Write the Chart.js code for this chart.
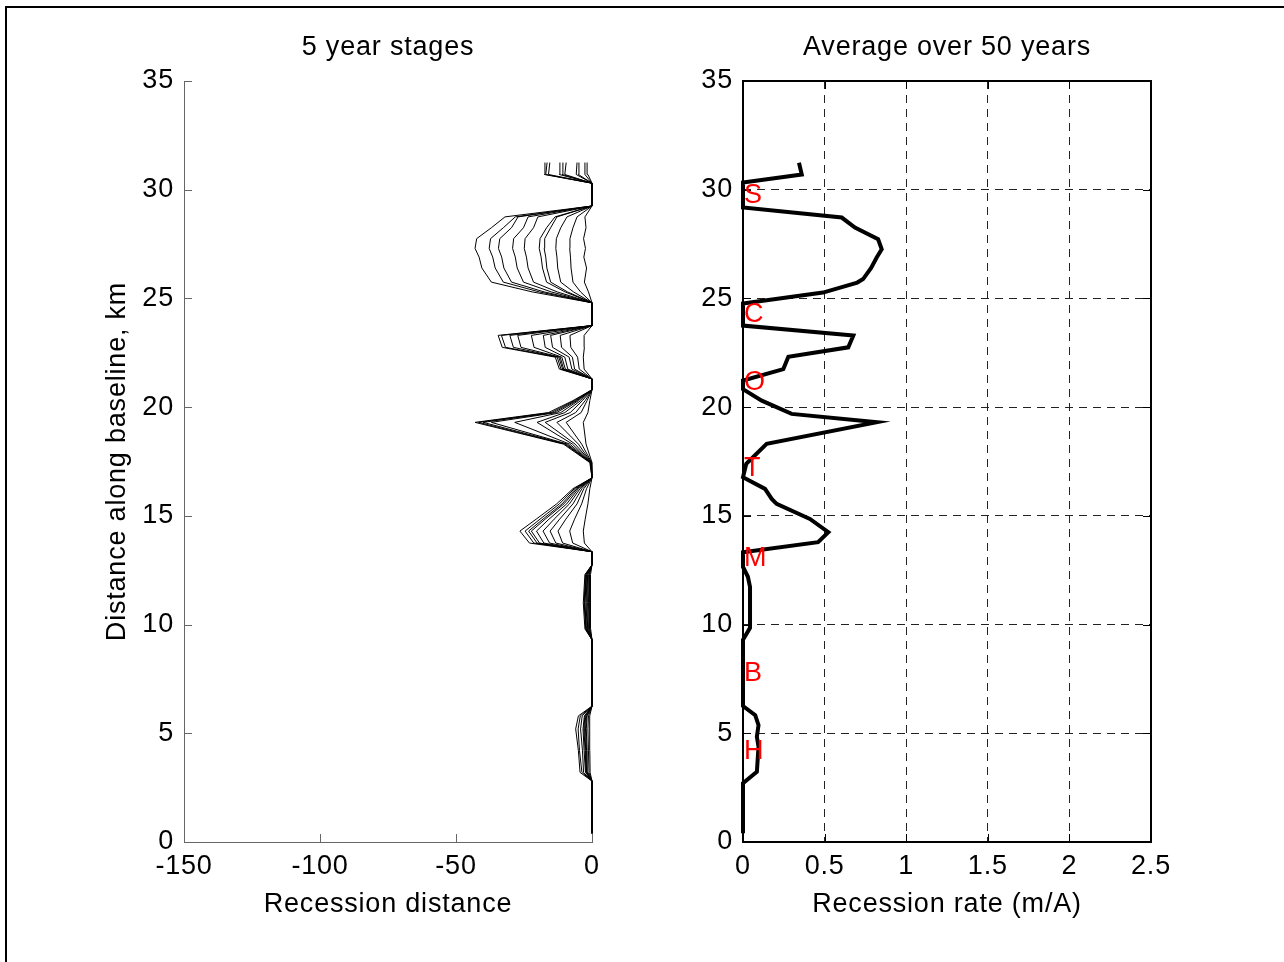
<!DOCTYPE html>
<html>
<head>
<meta charset="utf-8">
<script src="https://cdn.jsdelivr.net/npm/chart.js@4.4.1/dist/chart.umd.min.js"></script>
<style>
  body { margin: 0; background: #fff; }
  #frame { position: absolute; left: 5px; top: 6px; width: 1300px; height: 980px; border-top: 2px solid #000; border-left: 2px solid #000; }
  canvas { position: absolute; top: 0; }
  #left { left: 0; }
  #right { left: 642px; }
</style>
</head>
<body>
<div id="frame"></div>
<canvas id="left" width="642" height="962"></canvas>
<canvas id="right" width="642" height="962"></canvas>
<script>
// distance along baseline (km) for the 5 year stage profiles
var kmGrid = [0.4, 2.8, 3.2, 4.2, 5.2, 5.8, 6.25, 9.3, 9.8, 11.0, 12.3,
              12.75, 13.35, 13.75, 14.3, 14.85, 15.55, 16.25, 16.75, 17.45, 18.3, 19.3,
              19.75, 20.3, 20.8, 21.3, 21.75, 22.3, 22.75, 23.3, 23.75, 24.8, 25.3,
              25.75, 26.4, 26.9, 27.3, 27.75, 28.25, 28.75, 29.25, 30.3, 30.7, 31.25];

// cumulative recession after each 5 year stage
var stage1 = [0, 0, -0.7, -0.8, -0.9, -0.8, 0, 0, -0.5, -0.6, -0.5,
              0, 0, -2.8, -3.2, -2.5, -1.5, -0.8, 0, 0, -2.2, -3.2,
              -1.5, -0.8, 0, 0, -2.9, -3.2, -2.8, -2.9, 0, 0, -1.3,
              -2.8, -2.0, -3.0, -2.4, -3.1, -2.2, -2.6, 0, 0, -1.5, -1.8];
var stage2 = [0, 0, -1.1, -1.3, -1.5, -1.3, 0, 0, -0.8, -1.0, -0.8,
              0, 0, -7.1, -8.2, -6.4, -3.8, -2.0, 0, -0.1, -3.8, -9.5,
              -4.0, -1.8, 0, 0, -4.7, -5.3, -7.8, -8.1, 0, 0, -4.2,
              -7.0, -7.7, -7.9, -8.2, -8.1, -7.0, -5.5, 0, 0, -2.6, -2.6];
var stage3 = [0, 0, -1.5, -1.8, -2.1, -1.8, 0, 0, -1.0, -1.3, -1.0,
              0, 0, -10.8, -12.5, -9.6, -5.5, -3.0, 0, -0.2, -5.0, -12.9,
              -6.0, -2.5, 0, 0, -6.4, -7.2, -11.2, -11.7, 0, 0, -6.8,
              -11.5, -12.6, -12.9, -13.3, -13.1, -11.5, -9.2, 0, 0, -5.0, -4.8];
var stage4 = [0, 0, -1.8, -2.0, -2.4, -2.0, 0, 0, -1.3, -1.6, -1.3,
              0, 0, -13.3, -15.4, -11.9, -7.0, -3.7, 0, -0.2, -6.2, -17.2,
              -8.0, -3.5, 0, 0, -7.4, -8.4, -14.5, -15.2, 0, 0, -9.0,
              -15.2, -16.6, -17.0, -17.6, -17.4, -15.2, -12.9, 0, 0, -5.8, -5.5];
var stage5 = [0, 0, -2.0, -2.3, -2.7, -2.3, 0, 0, -1.6, -1.9, -1.6,
              0, 0, -15.6, -18.0, -13.9, -8.3, -4.4, 0, -0.3, -7.2, -20.2,
              -10.0, -4.2, 0, 0, -8.9, -10.0, -17.2, -17.9, 0, 0, -9.9,
              -16.7, -18.2, -18.7, -19.4, -19.1, -16.7, -13.6, 0, 0, -10.0, -9.5];
var stage6 = [0, 0, -2.2, -2.5, -3.0, -2.6, 0, 0, -1.8, -2.2, -1.8,
              0, 0, -17.7, -20.4, -15.8, -9.3, -5.0, 0, -0.3, -8.2, -28.4,
              -11.5, -5.0, 0, 0, -9.8, -11.1, -21.3, -22.3, 0, 0, -12.8,
              -21.5, -23.5, -24.1, -24.9, -24.6, -21.5, -19.9, 0, 0, -11.0, -10.7];
var stage7 = [0, 0, -2.4, -2.9, -3.3, -2.8, 0, 0, -2.1, -2.6, -2.0,
              0, 0, -19.3, -22.3, -17.2, -10.3, -5.5, 0, -0.4, -9.0, -37.0,
              -13.0, -5.5, 0, 0, -10.4, -11.7, -26.1, -27.3, 0, 0, -15.0,
              -25.2, -27.5, -28.2, -29.2, -28.8, -25.2, -23.5, 0, 0, -12.0, -11.8];
var stage8 = [0, 0, -3.1, -3.5, -4.2, -3.6, 0, 0, -2.2, -2.7, -2.2,
              0, 0, -20.2, -23.3, -18.0, -11.0, -6.0, 0, -0.5, -9.5, -40.0,
              -14.0, -6.0, 0, 0, -10.8, -12.2, -28.9, -30.2, 0, 0, -17.6,
              -29.6, -32.4, -33.2, -34.4, -33.9, -29.6, -27.2, 0, 0, -16.0, -15.5];
var stage9 = [0, 0, -3.7, -4.6, -5.1, -4.3, 0, 0, -2.3, -2.9, -2.4,
              0, 0, -21.4, -24.6, -19.1, -12.0, -6.5, 0, -0.6, -10.0, -41.7,
              -15.0, -6.5, 0, 0, -11.4, -12.8, -31.8, -33.3, 0, 0, -19.4,
              -32.6, -35.6, -36.5, -37.8, -37.3, -32.6, -28.2, 0, 0, -17.0, -16.5];
var stage10 = [0, 0, -4.4, -5.0, -6.0, -5.0, 0, 0, -2.6, -3.2, -2.6,
               0, 0, -23.0, -26.5, -20.5, -13.0, -7.0, 0, -0.8, -10.5, -43.0,
               -16.0, -7.0, 0, 0, -12.0, -13.5, -33.0, -34.5, 0, 0, -22.0,
               -37.0, -40.5, -41.5, -43.0, -42.4, -37.0, -32.0, 0, 0, -17.5, -17.3];

// average recession rate over 50 years
var avgKm = [0.4, 2.7, 3.23, 4.38, 4.84, 5.37, 5.83, 6.25, 9.3, 9.85, 11.73, 12.2, 12.65,
             13.33, 13.79, 14.25, 14.86, 15.55, 15.78, 16.24, 16.78, 17.39, 18.31, 19.31,
             19.69, 20.3, 20.83, 21.22, 21.75, 22.32, 22.75, 23.29, 23.75, 24.77, 25.27,
             25.73, 25.89, 26.4, 26.89, 27.26, 27.72, 28.26, 28.72, 29.18, 30.33, 30.7, 31.24];
var avgRate = [0, 0, 0.085, 0.095, 0.085, 0.095, 0.075, 0, 0, 0.043, 0.043, 0.03, 0,
               0, 0.46, 0.523, 0.41, 0.206, 0.176, 0.135, 0, 0.02, 0.145, 0.82,
               0.298, 0.115, 0, 0, 0.247, 0.278, 0.645, 0.676, 0, 0, 0.49,
               0.70, 0.736, 0.785, 0.82, 0.85, 0.828, 0.686, 0.605, 0, 0, 0.36, 0.343];

var siteLetters = ['S', 'C', 'O', 'T', 'M', 'B', 'H'];
var siteKm = [29.8, 24.3, 21.2, 17.2, 13.1, 7.8, 4.2];

var fontFamily = '"Liberation Sans", Arial, Helvetica, sans-serif';
Chart.defaults.font.family = fontFamily;
Chart.defaults.font.size = 27;
Chart.defaults.color = '#000';

var spacing = {
    id: 'spacing',
    beforeUpdate: function(chart) { chart.ctx.letterSpacing = '0.8px'; },
    beforeDraw: function(chart) { chart.ctx.letterSpacing = '0.8px'; }
};

// matlab style ticks pointing into the axes, plus the box on the right plot
var innerTicks = {
    id: 'innerTicks',
    afterDatasetsDraw: function(chart, args, opts) {
        var ctx = chart.ctx, a = chart.chartArea;
        var xs = chart.scales.x, ys = chart.scales.y;
        var len = 8;
        ctx.save();
        ctx.strokeStyle = opts.color;
        ctx.lineWidth = 1;
        ctx.beginPath();
        xs.ticks.forEach(function(t) {
            var px = Math.round(xs.getPixelForValue(t.value)) + 0.5;
            ctx.moveTo(px, a.bottom);
            ctx.lineTo(px, a.bottom - len);
            if (opts.box) {
                ctx.moveTo(px, a.top);
                ctx.lineTo(px, a.top + len);
            }
        });
        ys.ticks.forEach(function(t) {
            var py = Math.round(ys.getPixelForValue(t.value)) + 0.5;
            ctx.moveTo(a.left, py);
            ctx.lineTo(a.left + len, py);
            if (opts.box) {
                ctx.moveTo(a.right, py);
                ctx.lineTo(a.right - len, py);
            }
        });
        ctx.stroke();
        if (opts.box) {
            ctx.lineWidth = 2;
            ctx.strokeStyle = '#000';
            ctx.strokeRect(a.left, a.top, a.right - a.left, a.bottom - a.top);
        }
        ctx.restore();
    }
};

var siteLabels = {
    id: 'siteLabels',
    afterDatasetsDraw: function(chart) {
        var ctx = chart.ctx;
        var xs = chart.scales.x, ys = chart.scales.y;
        ctx.save();
        ctx.fillStyle = '#ff0000';
        ctx.font = '27px ' + fontFamily;
        ctx.textAlign = 'left';
        ctx.textBaseline = 'middle';
        siteLetters.forEach(function(s, i) {
            ctx.fillText(s, xs.getPixelForValue(0) + 1, ys.getPixelForValue(siteKm[i]) + 1);
        });
        ctx.restore();
    }
};

function toPoints(xs, ys) {
    return ys.map(function(y, i) { return { x: xs[i], y: y }; });
}

function label(v) { return String(v); }

var stages = [stage1, stage2, stage3, stage4, stage5, stage6, stage7, stage8, stage9, stage10];
var stageSets = stages.map(function(s, i) {
    return {
        label: (5 * (i + 1)) + ' years',
        data: toPoints(s, kmGrid),
        showLine: true,
        borderColor: '#000',
        borderWidth: 1,
        pointRadius: 0,
        tension: 0,
        clip: false
    };
});

var titlePad = { top: 31.8, bottom: 16.8 };

var leftChart = new Chart(document.getElementById('left'), {
    type: 'scatter',
    data: { datasets: stageSets },
    plugins: [spacing, innerTicks],
    options: {
        responsive: false,
        animation: false,
        devicePixelRatio: 1,
        events: [],
        layout: { padding: { top: 0, left: 0, right: 50, bottom: 0 } },
        plugins: {
            legend: { display: false },
            tooltip: { enabled: false },
            title: {
                display: true, text: '5 year stages', fullSize: false, color: '#000',
                font: { size: 27, weight: 'normal' }, padding: titlePad
            },
            innerTicks: { color: '#666', box: false }
        },
        scales: {
            x: {
                type: 'linear', position: 'bottom', min: -150, max: 0,
                afterFit: function(s) { s.height = 120; },
                ticks: { stepSize: 50, padding: 8.8, maxRotation: 0, autoSkip: false, callback: label },
                grid: { display: false, drawTicks: false },
                border: { display: true, color: '#666', width: 1 },
                title: { display: true, text: 'Recession distance', padding: { top: 0, bottom: 40.8 } }
            },
            y: {
                type: 'linear', position: 'left', min: 0, max: 35,
                afterFit: function(s) { s.width = 184; },
                ticks: { stepSize: 5, padding: 10, autoSkip: false, callback: label },
                grid: { display: false, drawTicks: false },
                border: { display: true, color: '#666', width: 1 },
                title: { display: true, text: 'Distance along baseline, km', padding: { top: 101.8, bottom: 0 } }
            }
        }
    }
});

var rightChart = new Chart(document.getElementById('right'), {
    type: 'scatter',
    data: {
        datasets: [{
            label: 'Average over 50 years',
            data: toPoints(avgRate, avgKm),
            showLine: true,
            borderColor: '#000',
            borderWidth: 4,
            pointRadius: 0,
            tension: 0,
            clip: false
        }]
    },
    plugins: [spacing, innerTicks, siteLabels],
    options: {
        responsive: false,
        animation: false,
        devicePixelRatio: 1,
        events: [],
        layout: { padding: { top: 0, left: 0, right: 133, bottom: 0 } },
        plugins: {
            legend: { display: false },
            tooltip: { enabled: false },
            title: {
                display: true, text: 'Average over 50 years', fullSize: false, color: '#000',
                font: { size: 27, weight: 'normal' }, padding: titlePad
            },
            innerTicks: { color: '#000', box: true }
        },
        scales: {
            x: {
                type: 'linear', position: 'bottom', min: 0, max: 2.5,
                afterFit: function(s) { s.height = 120; },
                ticks: { stepSize: 0.5, padding: 8.8, maxRotation: 0, autoSkip: false, callback: label },
                grid: { display: true, drawTicks: false, color: '#222', lineWidth: 1 },
                border: { display: false, dash: [8, 6] },
                title: { display: true, text: 'Recession rate (m/A)', padding: { top: 0, bottom: 40.8 } }
            },
            y: {
                type: 'linear', position: 'left', min: 0, max: 35,
                afterFit: function(s) { s.width = 101; },
                ticks: { stepSize: 5, padding: 10, autoSkip: false, callback: label },
                grid: { display: true, drawTicks: false, color: '#222', lineWidth: 1 },
                border: { display: false, dash: [8, 6] }
            }
        }
    }
});
</script>
</body>
</html>
